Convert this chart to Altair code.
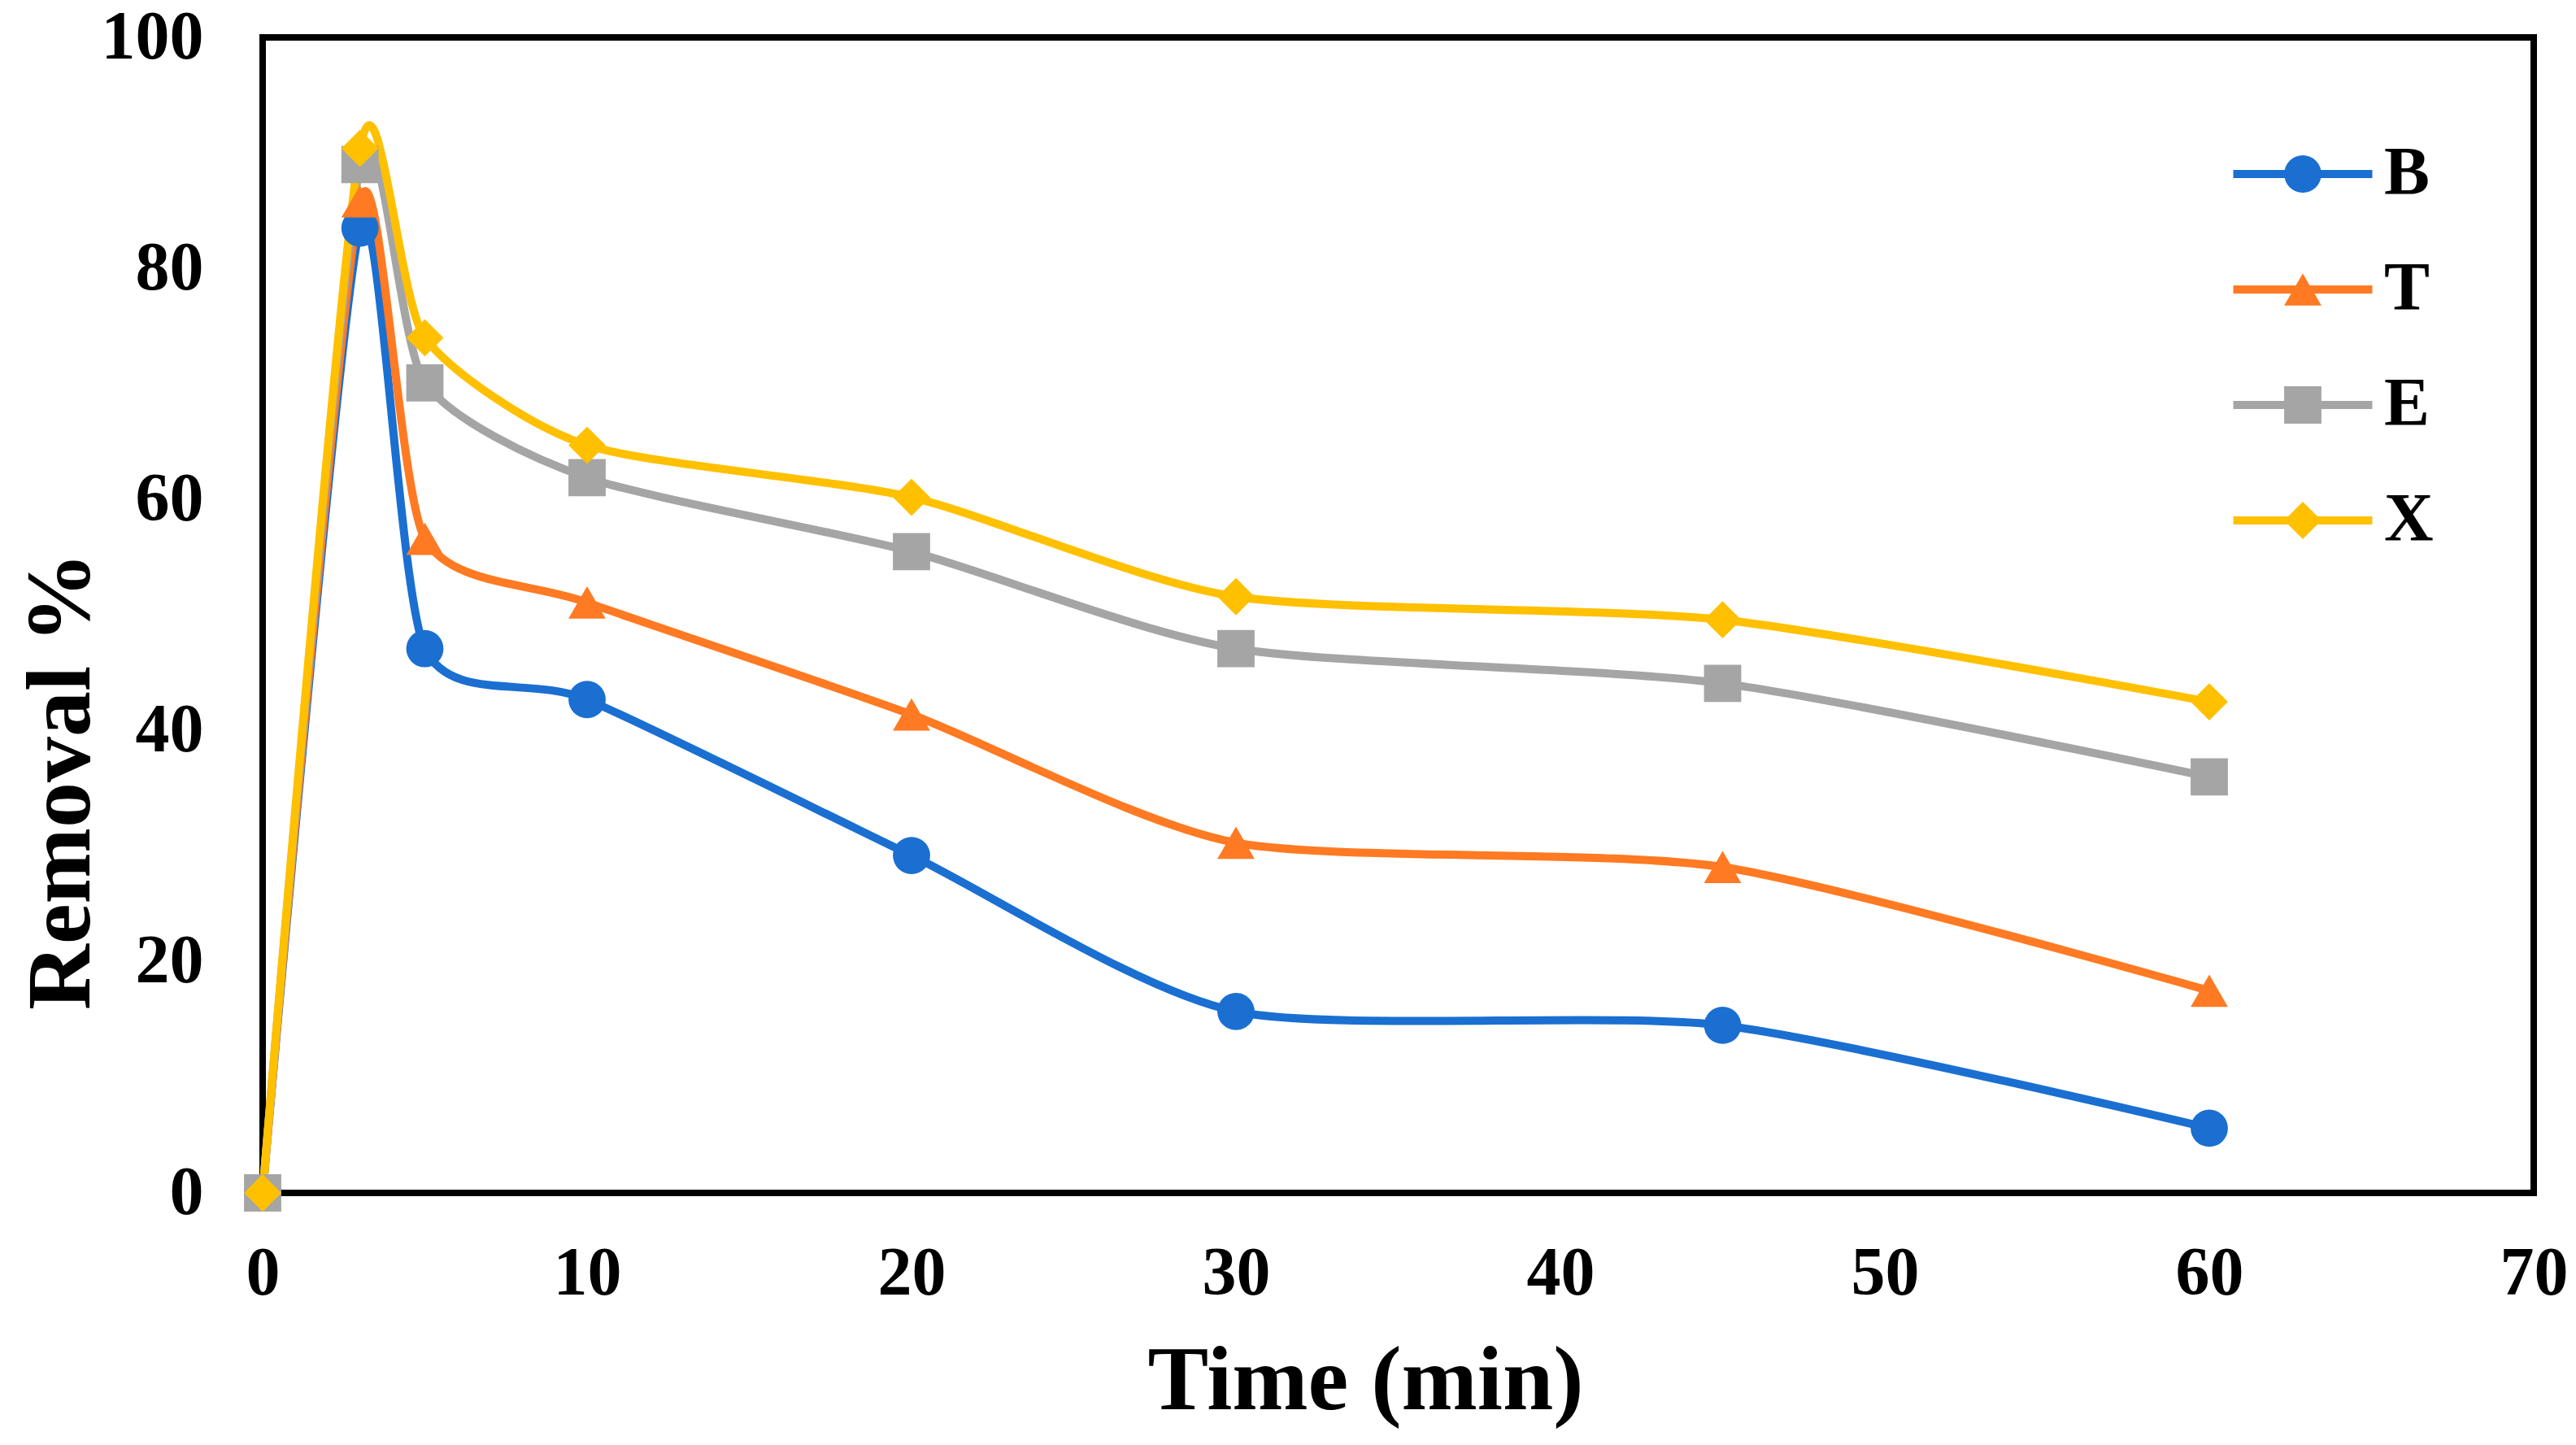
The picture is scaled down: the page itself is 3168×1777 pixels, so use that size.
import altair as alt
import pandas as pd

# ---- data ----
time_min = [0, 3, 5, 10, 20, 30, 45, 60]
series_names = ["B", "T", "E", "X"]
B = [0, 83.5, 47.1, 42.7, 29.2, 15.7, 14.5, 5.6]
T = [0, 85.8, 56.6, 51.1, 41.4, 30.3, 28.2, 17.5]
E = [0, 89.0, 70.1, 61.9, 55.5, 47.1, 44.1, 36.0]
X = [0, 90.4, 74.0, 64.7, 60.2, 51.6, 49.6, 42.5]
colors = ["#1A6FD1", "#FF7A22", "#A5A5A5", "#FFC000"]
shapes = ["circle", "triangle-up", "square", "diamond"]
x_ticks = [0, 10, 20, 30, 40, 50, 60, 70]
y_ticks = [0, 20, 40, 60, 80, 100]

rows = []
for name, vals in zip(series_names, [B, T, E, X]):
    for t, v in zip(time_min, vals):
        rows.append({"Time": t, "Removal": v, "Series": name})
df = pd.DataFrame(rows)

FONT = "Liberation Serif"
W, H = 2793, 1421
LEG_X, LEG_Y = 2467, 126

color_scale = alt.Scale(domain=series_names, range=colors)
shape_scale = alt.Scale(domain=series_names, range=shapes)

x_enc = alt.X("Time:Q", scale=alt.Scale(domain=[0, 70], nice=False),
              axis=alt.Axis(values=x_ticks, title="Time (min)", titleX=1356, titleY=265,
                            titleBaseline="alphabetic", labelPadding=58, labelFlush=False))
y_enc = alt.Y("Removal:Q", scale=alt.Scale(domain=[0, 100], nice=False),
              axis=alt.Axis(values=y_ticks, title="Removal %", titleX=-214, titleY=914,
                            titleAngle=270, titleAlign="center", titleBaseline="alphabetic",
                            labelPadding=73, labelFlush=False))

leg_common = dict(orient="none", legendX=LEG_X, legendY=LEG_Y, title=None, padding=0,
                  labelFont=FONT, labelFontSize=84, labelFontWeight="bold", labelColor="black",
                  rowPadding=58, labelOffset=58)

lines = alt.Chart(df).mark_line(interpolate="cardinal", tension=0.3, strokeWidth=10).encode(
    x=x_enc, y=y_enc,
    color=alt.Color("Series:N", scale=color_scale,
                    legend=alt.Legend(symbolType="M-3,0H3", symbolSize=3249,
                                      symbolStrokeWidth=10, **leg_common)),
    detail="Series:N",
    order="Time:Q",
)

points = alt.Chart(df).mark_point(filled=True, size=2100, opacity=1).encode(
    x=x_enc, y=y_enc,
    color=alt.Color("Series:N", scale=color_scale,
                    legend=alt.Legend(symbolSize=2100, symbolStrokeWidth=0, symbolOpacity=1,
                                      labelOpacity=0, **leg_common)),
    shape=alt.Shape("Series:N", scale=shape_scale,
                    legend=alt.Legend(symbolSize=2100, symbolStrokeWidth=0, symbolOpacity=1,
                                      labelOpacity=0, **leg_common)),
)

chart = alt.layer(lines, points).resolve_legend(color="independent", shape="independent").properties(
    width=W, height=H,
    autosize=alt.AutoSizeParams(type="none"),
    padding={"left": 315, "top": 38, "right": 44, "bottom": 290},
    background="white",
).configure_view(
    stroke="black", strokeWidth=8
).configure_axis(
    labelFont=FONT, labelFontSize=84, labelFontWeight="bold", labelColor="black",
    titleFont=FONT, titleFontSize=112, titleFontWeight="bold", titleColor="black",
    ticks=False, grid=False, domain=False,
)

chart.save("out.html", embed_options={"renderer": "svg", "actions": False})
